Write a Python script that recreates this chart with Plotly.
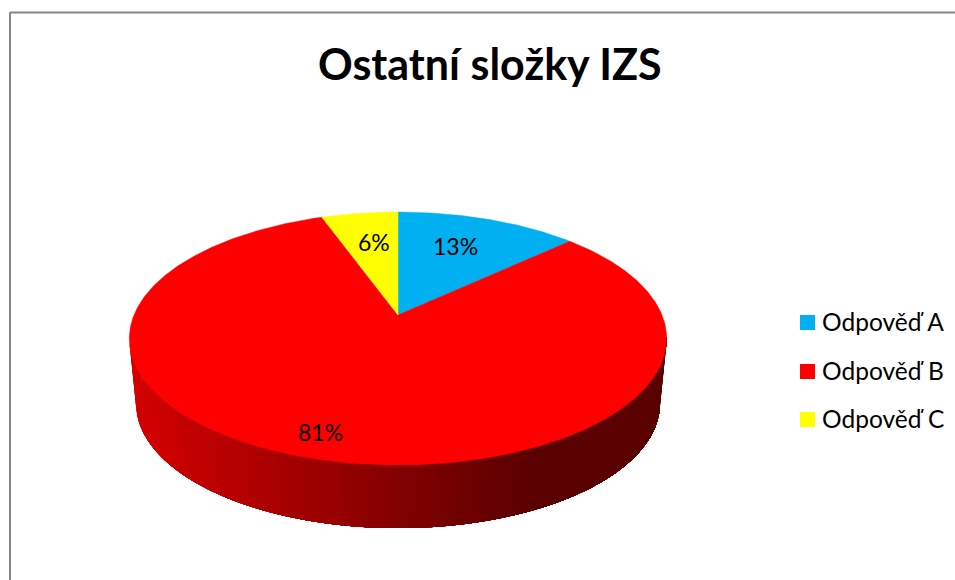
import numpy as np
import plotly.graph_objects as go

# data
categories = ["Odpověď A", "Odpověď B", "Odpověď C"]
values = [13.1, 81.4, 5.5]
colors = ["#00B0F0", "#FF0000", "#FFFF00"]
title = "Ostatní složky IZS"

FONT = "Lato, Carlito, sans-serif"
W, H = 955, 580

# perspective of the disc, in pixels
CX, CY = 398, 315
E, D, K = 264, -63.6, 0.1858
DEPTH_TOP, DEPTH_BOTTOM, DEPTH_SCALE_Y = 340, 405, 0.985
DEPTH_SCALE_X = 0.975

# where the percent labels and the legend rows sit
label_x = [455, 320, 374]
label_y = [246, 432, 242]
legend_x = 807.5
legend_text_x = 820
legend_y = [322.5, 371.5, 419.5]


def project(theta):
    # theta in degrees, clockwise from the top of the disc
    t = np.radians(theta)
    u, v = np.sin(t), np.cos(t)
    return CX + E * u / (1 + K * v), (CY + D * v) / (1 + K * v)


def project_bottom(theta):
    x, y = project(theta)
    return CX + (x - CX) * DEPTH_SCALE_X, DEPTH_BOTTOM + (y - DEPTH_TOP) * DEPTH_SCALE_Y


def wall_color(x):
    # side of the disc fades from left to right
    r = np.interp(x, [130, 530], [212, 90])
    return f"rgb({int(r)},0,0)"


fig = go.Figure()

# side wall: each strip runs to the far right and the next one paints over it,
# so there are no seams in the gradient
edges = np.linspace(258, 100, 120)
for a in edges[:-1]:
    arc = np.linspace(a, edges[-1], 100)
    x1, y1 = project(arc)
    x2, y2 = project_bottom(arc[::-1])
    c = wall_color(x1[0])
    fig.add_trace(go.Scatter(
        x=np.r_[x1, x2], y=np.r_[y1, y2],
        mode="lines", fill="toself", fillcolor=c,
        line=dict(width=0),
        hoverinfo="skip", showlegend=False,
    ))

# top of the disc
start = 0.0
total = sum(values)
for cat, val, col in zip(categories, values, colors):
    sweep = 360 * val / total
    arc = np.linspace(start, start + sweep, max(int(sweep), 2) * 2)
    x, y = project(arc)
    fig.add_trace(go.Scatter(
        x=np.r_[CX, x, CX], y=np.r_[CY, y, CY],
        mode="lines", fill="toself", fillcolor=col,
        line=dict(color=col, width=0.5),
        name=cat, hoverinfo="name", showlegend=False,
    ))
    start += sweep

# legend rows
for cat, col, y in zip(categories, colors, legend_y):
    fig.add_trace(go.Scatter(
        x=[legend_x], y=[y], mode="markers", name=cat,
        marker=dict(symbol="square", size=15, color=col),
        hoverinfo="name", showlegend=False,
    ))
    fig.add_annotation(
        x=legend_text_x, y=y, text=cat, showarrow=False, xanchor="left",
        yshift=1, font=dict(family=FONT, size=24.5, color="black"),
    )

for val, x, y in zip(values, label_x, label_y):
    fig.add_annotation(
        x=x, y=y, text=f"{round(val)}%", showarrow=False,
        font=dict(family=FONT, size=23, color="black"),
    )

fig.add_annotation(
    x=490, y=63, text=f"<b>{title}</b>", showarrow=False,
    font=dict(family=FONT, size=43, color="black"),
)

# chart frame runs off the right and bottom of the crop
fig.add_shape(type="line", x0=10, x1=W, y0=12.5, y1=12.5, line=dict(color="#868686", width=2))
fig.add_shape(type="line", x0=10, x1=10, y0=12.5, y1=H, line=dict(color="#868686", width=2))

fig.update_xaxes(range=[0, W], visible=False, fixedrange=True)
fig.update_yaxes(range=[H, 0], visible=False, fixedrange=True)
fig.update_layout(
    width=W, height=H,
    margin=dict(l=0, r=0, t=0, b=0),
    paper_bgcolor="white", plot_bgcolor="white",
    showlegend=False,
)

fig.write_html(
    "out.html",
    config=dict(displayModeBar=False),
    post_script="document.body.style.margin='0';document.body.style.overflow='hidden';",
)
